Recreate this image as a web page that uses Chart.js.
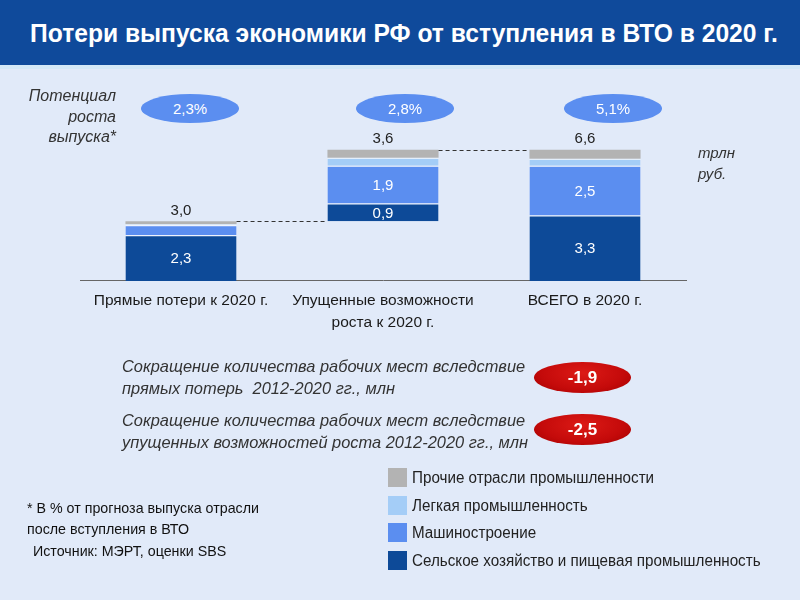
<!DOCTYPE html>
<html>
<head>
<meta charset="utf-8">
<script src="https://cdn.jsdelivr.net/npm/chart.js@4.4.1/dist/chart.umd.min.js"></script>
<style>
  body { margin: 0; width: 800px; height: 600px; background: #e1eaf9; position: relative; overflow: hidden;
         font-family: "Liberation Sans", Arial, sans-serif; color: #1a1a1a; }
  #hdr { position: absolute; left: 0; top: 0; width: 800px; height: 65px; background: #0f4a9b; border-bottom: 4px solid #d3e8f7; }
  #hdr span { position: absolute; left: 30px; top: 19px; color: #fff; font-weight: bold; font-size: 25px; white-space: nowrap;
              transform: scaleX(0.985); transform-origin: 0 0; }
  canvas { position: absolute; left: 0; top: 0; }
  .t { position: absolute; white-space: nowrap; transform-origin: 0 0; }
  .it { font-style: italic; color: #333; }
  .pill { position: absolute; width: 98px; height: 29px; border-radius: 50%; background: #5b8ef0;
          color: #fff; font-size: 15px; text-align: center; line-height: 29px; }
  .red { position: absolute; width: 97px; height: 31px; border-radius: 50%;
         background: radial-gradient(ellipse at 50% 35%, #dc1a16 0%, #c40a0a 60%, #a00000 100%);
         color: #fff; font-weight: bold; font-size: 17px; text-align: center; line-height: 31px; }
  .lg { position: absolute; left: 388px; font-size: 16px; color: #222; white-space: nowrap; }
  .lg i { position: absolute; left: 0; top: 0; width: 19px; height: 19px; }
  .lg span { position: absolute; left: 24px; top: 0; line-height: 19px; transform: scaleX(0.95); transform-origin: 0 0; }
</style>
</head>
<body>
<div id="hdr"><span>Потери выпуска экономики РФ от вступления в ВТО в 2020 г.</span></div>
<canvas id="chart" width="800" height="600"></canvas>

<div class="t it" style="right:684px; top:86px; font-size:16px; line-height:20.5px; text-align:right;">Потенциал<br>роста<br>выпуска*</div>
<div class="t it" style="left:698px; top:142px; font-size:15px; line-height:21px;">трлн<br>руб.</div>

<div class="t it" style="left:122px; top:356px; font-size:17px; line-height:22px; transform:scaleX(0.965);">Сокращение количества рабочих мест вследствие<br>прямых потерь&nbsp; 2012-2020 гг., млн</div>
<div class="t it" style="left:122px; top:410px; font-size:17px; line-height:22px; transform:scaleX(0.965);">Сокращение количества рабочих мест вследствие<br>упущенных возможностей роста 2012-2020 гг., млн</div>

<div class="t" style="left:27px; top:497px; font-size:15px; line-height:21px; color:#111; transform:scaleX(0.95);">* В % от прогноза выпуска отрасли<br>после вступления в ВТО</div>
<div class="t" style="left:33px; top:542px; font-size:15px; color:#111; transform:scaleX(0.95);">Источник: МЭРТ, оценки SBS</div>

<script>
const categories = ['Прямые потери к 2020 г.', ['Упущенные возможности', 'роста к 2020 г.'], 'ВСЕГО в 2020 г.'];
const agriFood = [2.3, 0.9, 3.3];
const machinery = [0.5, 1.9, 2.5];
const lightInd = [0.05, 0.4, 0.35];
const otherInd = [0.15, 0.4, 0.45];
const growthPct = ['2,3%', '2,8%', '5,1%'];
const jobLoss = ['-1,9', '-2,5'];

// series, bottom to top
const segments = [
  { label: 'Сельское хозяйство и пищевая промышленность', data: agriFood, color: '#0d4a98' },
  { label: 'Машиностроение', data: machinery, color: '#5b8ef0' },
  { label: 'Легкая промышленность', data: lightInd, color: '#a4cdf7' },
  { label: 'Прочие отрасли промышленности', data: otherInd, color: '#b3b3b3' }
];

const totals = categories.map((c, i) => segments.reduce((s, d) => s + d.data[i], 0));
// the second bar sits on top of the first one, as in a waterfall
const offset = [0, totals[0], 0];

const fmt = v => v.toFixed(1).replace('.', ',');

const overlay = {
  id: 'overlay',
  afterDatasetsDraw(chart) {
    const ctx = chart.ctx;
    ctx.save();
    ctx.textAlign = 'center';
    ctx.textBaseline = 'middle';
    ctx.font = '15px "Liberation Sans", Arial, sans-serif';

    segments.forEach((s, si) => {
      chart.getDatasetMeta(si + 1).data.forEach((bar, i) => {
        if (s.data[i] < 0.8) return;
        ctx.fillStyle = '#fff';
        ctx.fillText(fmt(s.data[i]), bar.x, (bar.y + bar.base) / 2 + 1);
      });
    });

    const top = chart.getDatasetMeta(segments.length).data;
    top.forEach((bar, i) => {
      ctx.fillStyle = '#222';
      ctx.fillText(fmt(totals[i]), bar.x, bar.y - 11);
    });

    // dashed connectors between neighbouring bars
    const y = chart.scales.y;
    ctx.strokeStyle = '#333';
    ctx.lineWidth = 1;
    ctx.setLineDash([4, 3]);
    [[0, totals[0]], [1, offset[1] + totals[1]]].forEach(([i, v]) => {
      const a = top[i], b = top[i + 1];
      const py = Math.round(y.getPixelForValue(v)) + 0.5;
      ctx.beginPath();
      ctx.moveTo(a.x + a.width / 2, py);
      ctx.lineTo(b.x - b.width / 2, py);
      ctx.stroke();
    });
    ctx.restore();
  }
};

const datasets = [{ label: 'base', data: offset, backgroundColor: 'rgba(0,0,0,0)' }].concat(
  segments.map((s, si) => ({
    label: s.label,
    data: s.data,
    backgroundColor: s.color,
    borderColor: '#ffffff',
    borderWidth: si < segments.length - 1 ? { top: 1, left: 0, right: 0, bottom: 0 } : 0
  }))
);

const chart = new Chart(document.getElementById('chart'), {
  type: 'bar',
  data: { labels: categories, datasets },
  options: {
    responsive: false,
    animation: false,
    devicePixelRatio: 1,
    barPercentage: 0.55,
    categoryPercentage: 1,
    layout: { padding: { left: 80, right: 114, top: 122, bottom: 257 } },
    plugins: { legend: { display: false }, tooltip: { enabled: false } },
    scales: {
      x: {
        stacked: true,
        grid: { display: false, drawTicks: false },
        border: { color: '#666', width: 1 },
        ticks: { color: '#1a1a1a', padding: 9, font: { size: 15.5, family: '"Liberation Sans", Arial, sans-serif', lineHeight: 1.42 } }
      },
      y: { stacked: true, display: false, min: 0, max: 8 }
    }
  },
  plugins: [overlay]
});

// blue ovals with the growth potential, red ovals with job losses
const pillX = [141, 356, 564];
growthPct.forEach((p, i) => {
  const d = document.createElement('div');
  d.className = 'pill';
  d.style.left = pillX[i] + 'px';
  d.style.top = '94px';
  d.textContent = p;
  document.body.appendChild(d);
});
const redY = [362, 414];
jobLoss.forEach((p, i) => {
  const d = document.createElement('div');
  d.className = 'red';
  d.style.left = '534px';
  d.style.top = redY[i] + 'px';
  d.textContent = p;
  document.body.appendChild(d);
});

// legend, top to bottom as in the stack
const legendY = [468, 496, 523, 551];
segments.slice().reverse().forEach((s, i) => {
  const d = document.createElement('div');
  d.className = 'lg';
  d.style.top = legendY[i] + 'px';
  d.innerHTML = '<i style="background:' + s.color + '"></i><span></span>';
  d.querySelector('span').textContent = s.label;
  document.body.appendChild(d);
});
</script>
</body>
</html>
